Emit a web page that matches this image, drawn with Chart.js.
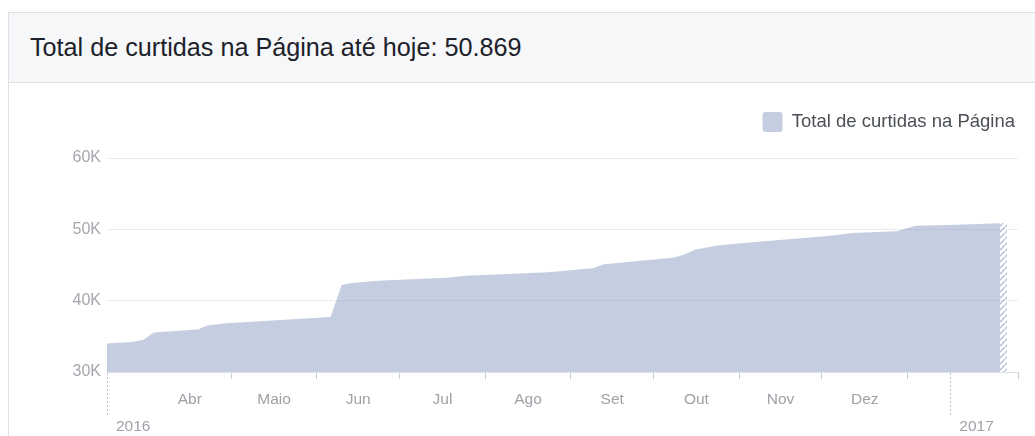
<!DOCTYPE html>
<html>
<head>
<meta charset="utf-8">
<script src="https://cdn.jsdelivr.net/npm/chart.js@4.4.1/dist/chart.umd.min.js"></script>
<style>
  html, body { margin: 0; padding: 0; background: #fff; overflow: hidden; }
  body { width: 1035px; height: 436px; position: relative; font-family: "Liberation Sans", Helvetica, Arial, sans-serif; }
  .card { position: absolute; left: 8px; top: 12px; width: 1100px; height: 500px; border: 1px solid #dddfe2; background: #fff; }
  .card-header { height: 69px; line-height: 69px; background: #f6f7f9; border-bottom: 1px solid #dddfe2; padding-left: 21px; font-size: 25.2px; color: #1d2129; white-space: nowrap; }
  .chart-box { position: absolute; left: 9px; top: 83px; width: 1026px; height: 353px; }
</style>
</head>
<body>
<div class="card"><div class="card-header">Total de curtidas na Página até hoje: 50.869</div></div>
<div class="chart-box"><canvas id="likesChart"></canvas></div>
<script>
// days are counted from 17 Mar 2016
var days = [0, 9, 13, 17, 33, 36, 42, 81, 85, 88, 98, 123, 130, 160, 176, 180, 205, 209, 213, 221, 237, 259, 265, 270, 286, 293, 305, 323.5];
var likes = [34000, 34200, 34500, 35550, 35950, 36500, 36800, 37700, 42200, 42450, 42800, 43200, 43500, 44000, 44550, 45100, 46000, 46450, 47150, 47750, 48300, 49000, 49250, 49500, 49720, 50500, 50600, 50869];
var partialDays = [323.5, 326];   // last, incomplete days (hatched)
var partialLikes = [50869, 50869];

var monthNames = ['Abr', 'Maio', 'Jun', 'Jul', 'Ago', 'Set', 'Out', 'Nov', 'Dez'];
var monthStarts = [15, 45, 76, 106, 137, 168, 198, 229, 259, 290]; // 1 Apr 2016 .. 1 Jan 2017
var dayMax = 330;
var yearLabels = ['2016', '2017'];
var yearMarks = [0, 305.5];
var yTicks = [30000, 40000, 50000, 60000];

document.addEventListener("DOMContentLoaded", function() {
    var grey = '#9ea2a8';
    Chart.defaults.font.family = '"Liberation Sans", Helvetica, Arial, sans-serif';

    // x ticks: month edges (tick marks), month middles (labels), year marks (dotted lines)
    var xTicks = [];
    monthStarts.slice(1).concat([dayMax]).forEach(function(d) {
        xTicks.push({value: d, kind: 'edge', name: ''});
    });
    monthNames.forEach(function(m, i) {
        xTicks.push({value: (monthStarts[i] + monthStarts[i + 1]) / 2, kind: 'month', name: m});
    });
    yearMarks.forEach(function(d) {
        xTicks.push({value: d, kind: 'year', name: ''});
    });
    xTicks.sort(function(a, b) { return a.value - b.value; });

    var canvas = document.getElementById('likesChart');
    var ctx = canvas.getContext('2d');

    // hatch pattern for the incomplete period
    var hatch = document.createElement('canvas');
    hatch.width = 6;
    hatch.height = 6;
    var hctx = hatch.getContext('2d');
    hctx.strokeStyle = '#b3bdd6';
    hctx.lineWidth = 1.5;
    hctx.beginPath();
    hctx.moveTo(-1, 7);
    hctx.lineTo(7, -1);
    hctx.stroke();
    var hatchFill = ctx.createPattern(hatch, 'repeat');

    // extra room under the legend
    var legendGap = {
        id: 'legendGap',
        beforeInit: function(chart) {
            var fit = chart.legend.fit;
            chart.legend.fit = function() {
                fit.call(this);
                this.height += 16;
            };
        }
    };

    var myChart = new Chart(ctx, {
        type: 'line',
        data: {
            datasets: [{
                label: 'Total de curtidas na Página',
                data: days.map(function(d, i) { return {x: d, y: likes[i]}; }),
                backgroundColor: 'rgba(139, 155, 193, 0.5)',
                borderWidth: 0,
                pointRadius: 0,
                fill: 'start',
                tension: 0
            }, {
                label: 'parcial',
                data: partialDays.map(function(d, i) { return {x: d, y: partialLikes[i]}; }),
                backgroundColor: hatchFill,
                borderWidth: 0,
                pointRadius: 0,
                fill: 'start'
            }]
        },
        options: {
            responsive: true,
            maintainAspectRatio: false,
            animation: false,
            layout: { padding: { top: 26, right: 17, bottom: 0, left: 0 } },
            plugins: {
                tooltip: { enabled: false },
                legend: {
                    position: 'top',
                    align: 'end',
                    labels: {
                        boxWidth: 20,
                        boxHeight: 20,
                        useBorderRadius: true,
                        borderRadius: 3,
                        padding: 3,
                        color: '#4b4f56',
                        font: { size: 18.5 },
                        filter: function(item) { return item.datasetIndex === 0; }
                    }
                }
            },
            scales: {
                x: {
                    type: 'linear',
                    position: 'bottom',
                    weight: 0,
                    min: 0,
                    max: dayMax,
                    afterBuildTicks: function(scale) {
                        scale.ticks = xTicks.map(function(t) { return {value: t.value, kind: t.kind, name: t.name}; });
                    },
                    afterFit: function(scale) { scale.height = 36; },
                    border: { display: true, color: '#dddfe2' },
                    grid: {
                        drawOnChartArea: false,
                        tickLength: 44,
                        tickWidth: 1,
                        tickColor: function(c) {
                            if (c.tick.kind === 'month') return 'rgba(0,0,0,0)';
                            return c.tick.kind === 'year' ? '#bfc3c8' : '#c9cdd2';
                        },
                        tickBorderDash: function(c) {
                            return c.tick.kind === 'year' ? [2, 2] : [6, 200];
                        }
                    },
                    ticks: {
                        autoSkip: false,
                        maxRotation: 0,
                        padding: -26,
                        color: grey,
                        font: { size: 15.5 },
                        callback: function(value, index, ticks) { return ticks[index].name; }
                    }
                },
                years: {
                    type: 'linear',
                    position: 'bottom',
                    weight: 1,
                    min: 0,
                    max: dayMax,
                    afterBuildTicks: function(scale) {
                        scale.ticks = yearMarks.map(function(d, i) { return {value: d, name: yearLabels[i]}; });
                    },
                    afterFit: function(scale) { scale.height = 28; },
                    grid: { display: false, drawTicks: false },
                    border: { display: false },
                    ticks: {
                        autoSkip: false,
                        maxRotation: 0,
                        align: 'start',
                        labelOffset: 9,
                        padding: 9,
                        color: grey,
                        font: { size: 15.5 },
                        callback: function(value, index, ticks) { return ticks[index].name; }
                    }
                },
                y: {
                    min: yTicks[0],
                    max: yTicks[yTicks.length - 1],
                    afterFit: function(scale) { scale.width = 98; },
                    afterBuildTicks: function(scale) {
                        scale.ticks = yTicks.map(function(v) { return {value: v}; });
                    },
                    border: { display: false },
                    grid: { color: '#e9ebee', drawTicks: false },
                    ticks: {
                        padding: 6,
                        color: '#a4a7ad',
                        font: { size: 16 },
                        callback: function(value) { return (value / 1000) + 'K'; }
                    }
                }
            }
        },
        plugins: [legendGap]
    });
});
</script>
</body>
</html>
